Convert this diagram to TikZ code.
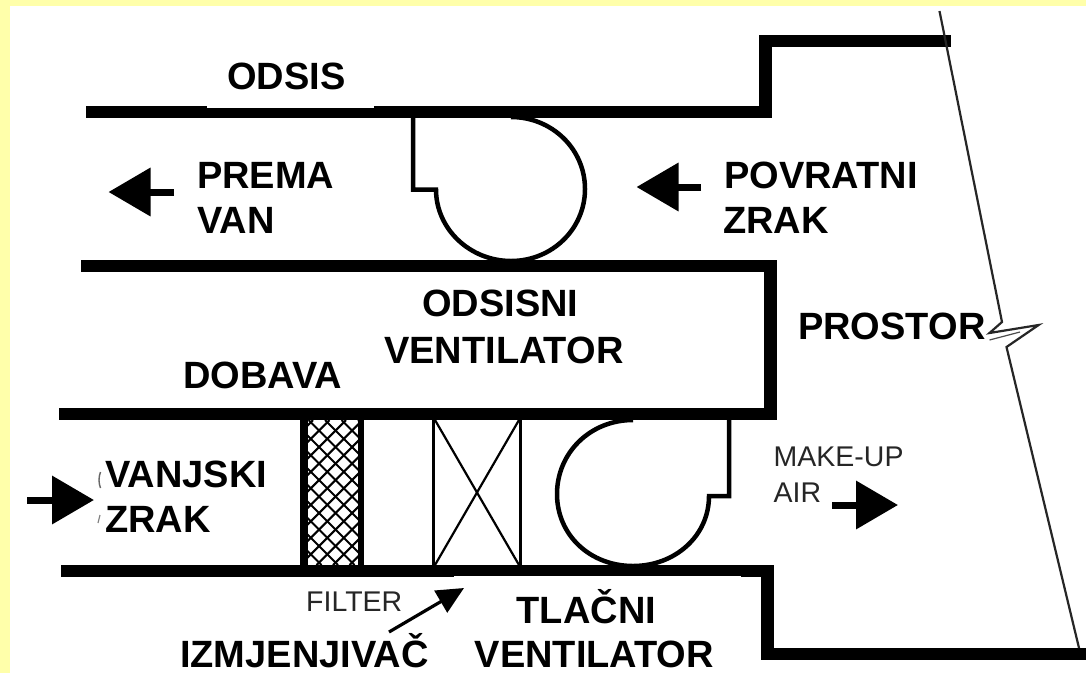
\documentclass[tikz,border=0pt]{standalone}
\usepackage{fontspec}
\setmainfont{Liberation Sans}
\usetikzlibrary{arrows.meta}
\definecolor{paleyellow}{HTML}{FFFFAA}
\tikzset{
  duct/.style={line width=12.5pt,miter limit=10},
  fanline/.style={line width=4.5pt,line join=miter},
  thinwall/.style={line width=2.2pt,color=black!85},
  blockarrow/.style={line width=7pt,-{Triangle[length=42pt,width=47pt]}},
  boldlabel/.style={inner sep=0pt,anchor=base west,font=\fontsize{38}{44}\selectfont\bfseries},
  smalllabel/.style={inner sep=0pt,anchor=base west,font=\fontsize{28.5}{32}\selectfont,text=black!85}
}
\begin{document}
\begin{tikzpicture}[x=1pt,y=-1pt]
\useasboundingbox (0,0) rectangle (1086,673);
\fill[paleyellow] (0,0) rectangle (1086,673);
\fill[white] (10,6) rectangle (1086,673);

% ducts
\draw[duct] (86,112) -- (765.5,112) -- (765.5,41) -- (950.5,41);
\draw[duct] (81,266) -- (770.5,266) -- (770.5,414) -- (58.5,414);
\draw[duct] (61,571) -- (767.5,571) -- (767.5,654) -- (1086,654);

% label cut-outs in the drawing
\fill[white] (207,100) rectangle (374,108);
\fill[white] (454,576.2) rectangle (741,590);

% return fan
\draw[fanline] (413,118) -- (413,189.5) -- (436,189.5)
  .. controls (436,229) and (470,261) .. (511,261)
  .. controls (552,261) and (585,229) .. (585,189)
  .. controls (585,149) and (552,117) .. (511,117);

% supply fan
\draw[fanline] (729,420) -- (729,496) -- (709,496)
  .. controls (709,536) and (675,566) .. (633,566)
  .. controls (590,566) and (557,535) .. (557,494)
  .. controls (557,453) and (590,420) .. (633,420);

% filter
\begin{scope}
\clip (306,420) rectangle (360,565);
\foreach \c in {700,716.5,...,960}{
  \draw[line width=2.1pt] (\c-420,420) -- (\c-565,565);
}
\foreach \c in {-260,-243.5,...,-40}{
  \draw[line width=2.1pt] (\c+420,420) -- (\c+565,565);
}
\end{scope}
\draw[line width=8pt] (304,420) -- (304,565);
\draw[line width=6pt] (361,420) -- (361,565);

% heating coil
\draw[line width=3.5pt] (433.5,420) -- (433.5,565);
\draw[line width=3.5pt] (520.5,420) -- (520.5,565);
\draw[line width=2.2pt] (435,420) -- (519,565);
\draw[line width=2.2pt] (519,420) -- (435,565);

% room wall
\draw[thinwall,line join=miter] (939.5,11) -- (1002,322) -- (989.5,333) -- (1038.6,325) -- (1006.5,347) -- (1079,648);
\draw[line width=1.2pt,color=black!70] (989.5,340) -- (1020,332);

% flow arrows
\coordinate (outT) at (174,192);  \coordinate (outH) at (108.5,192);
\coordinate (retT) at (701,187);  \coordinate (retH) at (636.5,187);
\coordinate (inT)  at (27,500);   \coordinate (inH)  at (94,500);
\coordinate (mkT)  at (832,505);  \coordinate (mkH)  at (898,505);
\draw[blockarrow] (outT) -- (outH);
\draw[blockarrow] (retT) -- (retH);
\draw[blockarrow] (inT) -- (inH);
\draw[blockarrow] (mkT) -- (mkH);

% clipped remnants beside the outdoor-air label
\draw[line width=1.4pt,color=black!60] (100.5,472) .. controls (98.5,477) and (98.5,483) .. (100.5,488);
\draw[line width=1.2pt,color=black!50] (100,515) -- (98,523);

% labels
\node[boldlabel] (odsis) at (227,89) {ODSIS};
\node[boldlabel] (prema) at (197,188) {PREMA};
\node[boldlabel] (van) at (197,233) {VAN};
\node[boldlabel] (povratni) at (724,188) {POVRATNI};
\node[boldlabel] (zrakr) at (723,233) {ZRAK};
\node[boldlabel] (prostor) at (798,339) {PROSTOR};
\node[boldlabel] (odsisni) at (422,316) {ODSISNI};
\node[boldlabel] (vent) at (384,363) {VENTILATOR};
\node[boldlabel] (dobava) at (183,388) {DOBAVA};
\node[boldlabel] (vanjski) at (105,487) {VANJSKI};
\node[boldlabel] (zrakl) at (105,532) {ZRAK};
\node[boldlabel] (tlacni) at (516.5,623) {TLAČNI};
\node[boldlabel] (ventb) at (474.5,667) {VENTILATOR};
\node[boldlabel] (izmj) at (180,667) {IZMJENJIVAČ};
\node[smalllabel] (filter) at (306,611) {FILTER};
\node[smalllabel] (makeup) at (773.5,466) {MAKE-UP};
\node[smalllabel] (air) at (773.5,502) {AIR};

% pointer to the coil
\coordinate (coilTip) at (464,588);
\coordinate (izmjTail) at (389,632);
\draw[line width=3.2pt,-{Triangle[length=27pt,width=25pt]}] (izmjTail) -- (coilTip);
\end{tikzpicture}
\end{document}
